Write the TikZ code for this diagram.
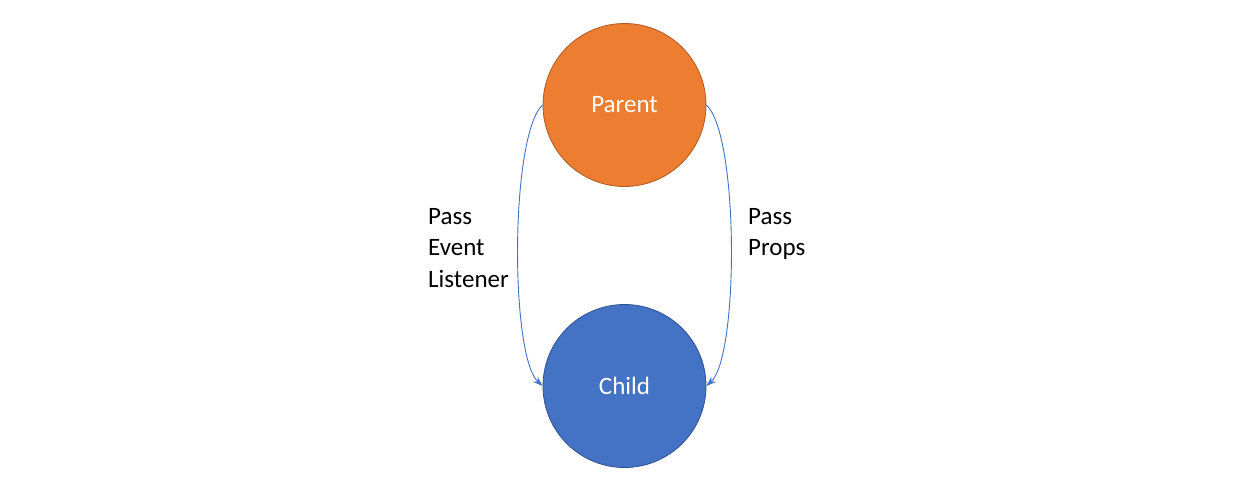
\documentclass[tikz,border=0pt]{standalone}
\usepackage{fontspec}
\setmainfont{Carlito}
\usetikzlibrary{arrows.meta}
\definecolor{porange}{HTML}{ED7D31}
\definecolor{porangeb}{HTML}{AE5A21}
\definecolor{cblue}{HTML}{4472C4}
\definecolor{cblueb}{HTML}{2F528F}
\tikzset{
  bubble/.style={circle, minimum size=163pt, inner sep=0pt, line width=0.8pt, text=white, font=\fontsize{25pt}{30pt}\selectfont},
  flow/.style={draw=cblue, line width=0.9pt, -{Stealth[length=10pt,width=7pt]}},
  lbl/.style={align=left, inner sep=0pt, font=\fontsize{25pt}{31.5pt}\selectfont}
}
\begin{document}
\begin{tikzpicture}[x=1pt,y=-1pt]
\useasboundingbox (0,0) rectangle (1247,482);
\node[bubble, fill=porange, draw=porangeb] (parent) at (624.5,105) {Parent};
\node[bubble, fill=cblue, draw=cblueb] (child) at (624.5,386) {Child};
\draw[flow] (parent.west) .. controls (510,135) and (510,356) .. (child.west);
\draw[flow] (parent.east) .. controls (739,135) and (739,356) .. (child.east);
\node[lbl, anchor=base west] (left) at (428,287) {Pass\\Event\\Listener};
\node[lbl, anchor=base west] (right) at (748,255.5) {Pass\\Props};
\end{tikzpicture}
\end{document}
